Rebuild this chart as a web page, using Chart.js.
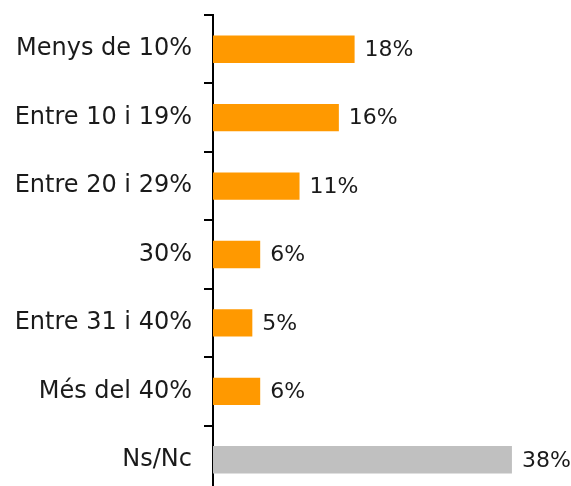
<!DOCTYPE html>
<html>
<head>
<meta charset="utf-8">
<script src="https://cdn.jsdelivr.net/npm/chart.js@4/dist/chart.umd.min.js"></script>
<style>
  html, body { margin: 0; padding: 0; overflow: hidden; background: #fff; }
  canvas { display: block; }
</style>
</head>
<body>
<canvas id="chart" width="571" height="500"></canvas>
<script>
//----- Data -----//

var categories = ['Menys de 10%', 'Entre 10 i 19%', 'Entre 20 i 29%', '30%', 'Entre 31 i 40%', 'Més del 40%', 'Ns/Nc']
var percentages = [18, 16, 11, 6, 5, 6, 38]
var barColors = ['#FF9900', '#FF9900', '#FF9900', '#FF9900', '#FF9900', '#FF9900', '#C0C0C0']

var fontFamily = '"DejaVu Sans", sans-serif'

//----- Value labels next to each bar -----//

const valueLabels = {
  id: 'valueLabels',
  afterDatasetsDraw(chart) {
    const ctx = chart.ctx
    const meta = chart.getDatasetMeta(0)
    ctx.save()
    ctx.font = '22px ' + fontFamily
    ctx.fillStyle = '#1a1a1a'
    ctx.textAlign = 'left'
    ctx.textBaseline = 'middle'
    meta.data.forEach((bar, i) => {
      ctx.fillText(percentages[i] + '%', bar.x + 10, bar.y + 1)
    })
    ctx.restore()
  }
}

//----- Chart -----//

new Chart(document.getElementById('chart'), {
  type: 'bar',
  data: {
    labels: categories,
    datasets: [{
      data: percentages,
      backgroundColor: barColors,
      barPercentage: 0.4,
      categoryPercentage: 1
    }]
  },
  options: {
    indexAxis: 'y',
    responsive: false,
    animation: false,
    layout: { padding: { top: 15, bottom: 6, left: 0, right: 4 } },
    plugins: {
      legend: { display: false },
      tooltip: { enabled: false }
    },
    scales: {
      x: {
        display: false,
        min: 0,
        max: 45
      },
      y: {
        afterFit(scale) {
          scale.width = 213
          scale.paddingTop = 0
          scale.paddingBottom = 0
        },
        border: { display: true, color: '#000', width: 2 },
        grid: {
          drawOnChartArea: false,
          drawTicks: true,
          tickLength: 9,
          color: '#000',
          lineWidth: 2
        },
        ticks: {
          padding: 12,
          color: '#1a1a1a',
          font: { family: fontFamily, size: 24 }
        }
      }
    }
  },
  plugins: [valueLabels]
})
</script>
</body>
</html>
